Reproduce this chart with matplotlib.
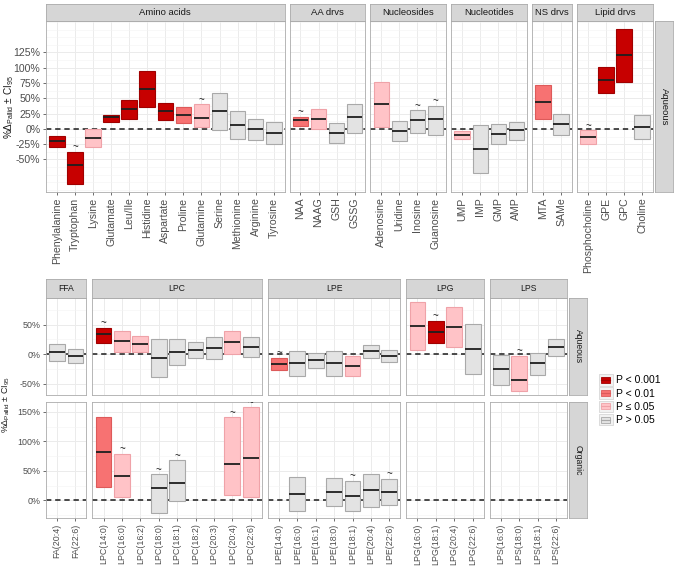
import numpy as np
import matplotlib
matplotlib.use("Agg")
import matplotlib.pyplot as plt
from matplotlib.patches import Rectangle, Patch
from matplotlib.lines import Line2D
from matplotlib.legend_handler import HandlerBase
from matplotlib.ticker import MultipleLocator, FixedLocator

plt.rcParams['font.family'] = ['Liberation Sans', 'DejaVu Sans']
plt.rcParams['mathtext.fontset'] = 'custom'
plt.rcParams['mathtext.rm'] = 'Liberation Sans'
plt.rcParams['mathtext.it'] = 'Liberation Sans'

# ---- data: aqueous metabolites (top figure) ----
aq_groups = ["Amino acids", "AA drvs", "Nucleosides", "Nucleotides", "NS drvs", "Lipid drvs"]
aq_names = [
    ["Phenylalanine", "Tryptophan", "Lysine", "Glutamate", "Leu/Ile", "Histidine", "Aspartate",
     "Proline", "Glutamine", "Serine", "Methionine", "Arginine", "Tyrosine"],
    ["NAA", "NAAG", "GSH", "GSSG"],
    ["Adenosine", "Uridine", "Inosine", "Guanosine"],
    ["UMP", "IMP", "GMP", "AMP"],
    ["MTA", "SAMe"],
    ["Phosphocholine", "GPE", "GPC", "Choline"],
]
aq_lo = [[-29.5, -90.6, -29.5, 11.5, 16.4, 35.5, 13.7, 9.8, 3.8, -2.2, -16.4, -17.5, -25.1],
         [4.4, 0.0, -22.9, -6.6],
         [2.7, -19.7, -6.6, -9.8],
         [-16.9, -72.0, -24.6, -18.0],
         [16.9, -9.3],
         [-24.0, 59.5, 76.4, -15.8]]
aq_mid = [[-19.7, -59.0, -14.7, 18.6, 32.2, 65.5, 28.9, 22.4, 18.0, 28.9, 6.6, -0.5, -6.0],
          [13.7, 16.9, -6.0, 18.6],
          [40.4, -3.3, 13.7, 16.9],
          [-9.8, -32.2, -8.2, -2.2],
          [44.2, 7.6],
          [-13.1, 79.7, 120.7, 3.3]]
aq_hi = [[-11.5, -37.7, -0.5, 23.5, 47.0, 95.0, 43.1, 35.0, 39.9, 59.5, 30.0, 15.8, 12.0],
         [19.7, 33.3, 9.8, 41.5],
         [77.5, 13.1, 30.6, 38.2],
         [-3.3, 7.1, 8.7, 12.0],
         [71.0, 24.0],
         [-2.2, 100.5, 163.8, 23.5]]
# 0: P<0.001, 1: P<0.01, 2: P<=0.05, 3: P>0.05
aq_sig = [[0, 0, 2, 0, 0, 0, 0, 1, 2, 3, 3, 3, 3],
          [1, 2, 3, 3],
          [2, 3, 3, 3],
          [2, 3, 3, 3],
          [1, 3],
          [2, 0, 0, 3]]
aq_tilde = [[0, 1, 0, 0, 0, 0, 0, 0, 1, 0, 0, 0, 0],
            [1, 0, 0, 0],
            [0, 0, 1, 1],
            [0, 0, 0, 0],
            [0, 0],
            [1, 0, 0, 0]]
aq_yticks = [-50, -25, 0, 25, 50, 75, 100, 125]

# ---- data: lipids (bottom figure), rows Aqueous / Organic ----
lp_groups = ["FFA", "LPC", "LPE", "LPG", "LPS"]
lp_names = [
    ["FA(20:4)", "FA(22:6)"],
    ["LPC(14:0)", "LPC(16:0)", "LPC(16:2)", "LPC(18:0)", "LPC(18:1)", "LPC(18:2)",
     "LPC(20:3)", "LPC(20:4)", "LPC(22:6)"],
    ["LPE(14:0)", "LPE(16:0)", "LPE(16:1)", "LPE(18:0)", "LPE(18:1)", "LPE(20:4)", "LPE(22:6)"],
    ["LPG(16:0)", "LPG(18:1)", "LPG(20:4)", "LPG(22:6)"],
    ["LPS(16:0)", "LPS(18:0)", "LPS(18:1)", "LPS(22:6)"],
]
nan = np.nan
lpa_lo = [[-11.9, -15.3],
          [18.2, 3.4, 3.4, -39.2, -19.3, -7.4, -8.0, 0.0, -5.1],
          [-27.8, -38.0, -23.3, -36.4, -36.9, -7.4, -13.1],
          [6.8, 19.3, 11.9, -34.0],
          [-52.8, -61.9, -35.2, -2.8]]
lpa_mid = [[2.8, -4.0],
           [34.7, 22.2, 17.6, -6.8, 4.0, 6.8, 10.8, 20.4, 12.5],
           [-17.6, -15.9, -9.7, -14.8, -20.4, 4.5, -3.4],
           [47.7, 38.0, 46.0, 9.1],
           [-26.1, -43.7, -15.9, 11.4]]
lpa_hi = [[16.5, 8.5],
          [44.3, 39.8, 31.2, 26.1, 25.6, 19.9, 29.0, 39.2, 29.5],
          [-6.2, 5.7, 1.7, 5.1, -3.4, 15.9, 6.8],
          [87.5, 56.8, 80.1, 51.1],
          [-1.7, -2.8, 2.3, 26.1]]
lpa_sig = [[3, 3],
           [0, 2, 2, 3, 3, 3, 3, 2, 3],
           [1, 3, 3, 3, 2, 3, 3],
           [2, 0, 2, 3],
           [3, 2, 3, 3]]
lpa_tilde = [[0, 0],
             [1, 0, 0, 0, 0, 0, 0, 0, 0],
             [1, 0, 0, 0, 0, 0, 0],
             [0, 1, 0, 0],
             [0, 1, 0, 0]]
lpo_lo = [[nan, nan],
          [23.6, 5.1, nan, -20.8, -0.6, nan, nan, 8.4, 6.2],
          [nan, -18.5, nan, -9.6, -17.4, -11.2, -7.9],
          [nan, nan, nan, nan],
          [nan, nan, nan, nan]]
lpo_mid = [[nan, nan],
           [82.6, 42.1, nan, 21.3, 29.2, nan, nan, 62.4, 72.5],
           [nan, 11.2, nan, 14.6, 6.7, 16.9, 14.6],
           [nan, nan, nan, nan],
           [nan, nan, nan, nan]]
lpo_hi = [[nan, nan],
          [141.0, 78.7, nan, 44.4, 68.0, nan, nan, 141.0, 157.9],
          [nan, 40.4, nan, 37.6, 33.1, 44.4, 37.1],
          [nan, nan, nan, nan],
          [nan, nan, nan, nan]]
lpo_sig = [[3, 3],
           [1, 2, 3, 3, 3, 3, 3, 2, 2],
           [3, 3, 3, 3, 3, 3, 3],
           [3, 3, 3, 3],
           [3, 3, 3, 3]]
lpo_tilde = [[0, 0],
             [0, 1, 0, 1, 1, 0, 0, 1, 1],
             [0, 0, 0, 0, 1, 0, 1],
             [0, 0, 0, 0],
             [0, 0, 0, 0]]
lpa_yticks = [-50, 0, 50]
lpo_yticks = [0, 50, 100, 150]

sig_labels = ["P < 0.001", "P < 0.01", "P \u2264 0.05", "P > 0.05"]
sig_fill = ['#C70000', '#F77272', '#FFC3C7', '#E3E3E3']
sig_edge = ['#A00000', '#DD5A5A', '#EFA2A8', '#A9A9A9']

# ---- figure ----
W, H = 675, 570
fig = plt.figure(figsize=(W / 100, H / 100), dpi=100)
border = '#ABABAB'
strip_bg = '#D6D6D6'
ylab = r'%$\Delta_{\mathrm{Pallid}}$ $\pm$ CI$_{95}$'


def px_axes(x0, y0, x1, y1):
    return fig.add_axes([x0 / W, 1 - y1 / H, (x1 - x0) / W, (y1 - y0) / H])


def strip(x0, y0, x1, y1, text, fs, rot=0):
    s = px_axes(x0, y0, x1, y1)
    s.set_facecolor(strip_bg)
    s.set_xticks([])
    s.set_yticks([])
    for sp in s.spines.values():
        sp.set_color(border)
        sp.set_linewidth(0.6)
    s.text(0.5, 0.5, text, ha='center', va='center', rotation=rot,
           fontsize=fs, color='#1A1A1A', transform=s.transAxes)


def panel_edges(counts, x0, x1, gap):
    # facet widths follow the number of categories (space = "free_x")
    units = [n + 0.2 for n in counts]
    per = (x1 - x0 - gap * (len(counts) - 1)) / sum(units)
    edges = []
    x = x0
    for u in units:
        edges.append((x, x + u * per))
        x += u * per + gap
    return edges


def data_lim(los, his):
    lo = np.nanmin([v for g in los for v in g])
    hi = np.nanmax([v for g in his for v in g])
    pad = (hi - lo) * 0.05
    return lo - pad, hi + pad


def draw_panel(ax, names, lo, mid, hi, sig, tilde, ylim, yticks, minor, first,
               show_x, xfs, yfs):
    n = len(names)
    x = np.arange(n)
    lo = np.asarray(lo, float)
    mid = np.asarray(mid, float)
    hi = np.asarray(hi, float)
    ax.set_xlim(-0.6, n - 0.4)
    ax.set_ylim(*ylim)
    ax.axhline(0, color='#1A1A1A', lw=1.1, ls=(0, (3.5, 2.5)), zorder=2)
    ok = ~np.isnan(mid)
    fills = [sig_fill[s] for s in sig]
    edges = [sig_edge[s] for s in sig]
    ax.bar(x[ok], (hi - lo)[ok], bottom=lo[ok], width=0.86,
           color=[fills[i] for i in x[ok]], edgecolor=[edges[i] for i in x[ok]],
           linewidth=0.8, zorder=3)
    ax.hlines(mid[ok], x[ok] - 0.43, x[ok] + 0.43, color='#1E1E1E', lw=1.3, zorder=4)
    for i in x[ok]:
        if tilde[i]:
            ax.annotate('~', xy=(i, hi[i]), xytext=(0, 3.2), textcoords='offset points',
                        ha='center', va='center', fontsize=7, color='#1A1A1A',
                        zorder=5, annotation_clip=False, clip_on=True)
    ax.set_facecolor('white')
    ax.xaxis.set_major_locator(FixedLocator(x))
    ax.yaxis.set_major_locator(FixedLocator(yticks))
    ax.yaxis.set_minor_locator(MultipleLocator(minor))
    ax.grid(True, which='major', color='#EBEBEB', lw=0.7, zorder=0)
    ax.grid(True, which='minor', axis='y', color='#F3F3F3', lw=0.4, zorder=0)
    ax.set_axisbelow(True)
    ax.tick_params(which='minor', length=0)
    ax.tick_params(which='major', length=2.5, width=0.5, color='#333333',
                   labelcolor='#4D4D4D', pad=1.5)
    if show_x:
        ax.set_xticklabels(names, rotation=90, fontsize=xfs)
    else:
        ax.tick_params(axis='x', length=0, labelbottom=False)
    if first:
        ax.set_yticklabels([f"{v:.0f}%" for v in yticks], fontsize=yfs)
    else:
        ax.tick_params(axis='y', length=0, labelleft=False)
    for sp in ax.spines.values():
        sp.set_color(border)
        sp.set_linewidth(0.6)


# ---- top figure ----
top_edges = panel_edges([len(g) for g in aq_names], 46, 653, 5)
top_ylim = data_lim(aq_lo, aq_hi)
for k, (a, b) in enumerate(top_edges):
    ax = px_axes(a, 21, b, 192)
    draw_panel(ax, aq_names[k], aq_lo[k], aq_mid[k], aq_hi[k], aq_sig[k], aq_tilde[k],
               top_ylim, aq_yticks, 12.5, k == 0, True, 7.6, 7.6)
    strip(a, 4, b, 21, aq_groups[k], 6.8)
strip(655, 21, 673, 192, "Aqueous", 6.8, rot=-90)
fig.text(9 / W, 1 - 107 / H, ylab, rotation=90, ha='center', va='center',
         fontsize=7.2, color='#1A1A1A')

# ---- bottom figure ----
bot_edges = panel_edges([len(g) for g in lp_names], 46, 567, 6)
lpa_ylim = data_lim(lpa_lo, lpa_hi)
lpo_ylim = data_lim(lpo_lo, lpo_hi)
for k, (a, b) in enumerate(bot_edges):
    ax = px_axes(a, 298, b, 395)
    draw_panel(ax, lp_names[k], lpa_lo[k], lpa_mid[k], lpa_hi[k], lpa_sig[k], lpa_tilde[k],
               lpa_ylim, lpa_yticks, 25, k == 0, False, 6.4, 6.4)
    ax = px_axes(a, 402, b, 518)
    draw_panel(ax, lp_names[k], lpo_lo[k], lpo_mid[k], lpo_hi[k], lpo_sig[k], lpo_tilde[k],
               lpo_ylim, lpo_yticks, 25, k == 0, True, 6.4, 6.4)
    strip(a, 279, b, 298, lp_groups[k], 6.2)
strip(569, 298, 587, 395, "Aqueous", 6.2, rot=-90)
strip(569, 402, 587, 518, "Organic", 6.2, rot=-90)
fig.text(6 / W, 1 - 405 / H, ylab, rotation=90, ha='center', va='center',
         fontsize=6.4, color='#1A1A1A')


# ---- legend ----
class CrossbarHandler(HandlerBase):
    def create_artists(self, legend, orig_handle, xdescent, ydescent, width, height,
                       fontsize, trans):
        x0, y0 = -xdescent, -ydescent
        bg = Rectangle((x0, y0), width, height, fc='#F2F2F2', ec='#D0D0D0', lw=0.5,
                       transform=trans)
        r = Rectangle((x0 + 1.5, y0 + 2), width - 3, height - 4,
                      fc=orig_handle.get_facecolor(), ec=orig_handle.get_edgecolor(),
                      lw=0.6, transform=trans)
        ln = Line2D([x0 + 1.5, x0 + width - 1.5], [y0 + height / 2] * 2,
                    color=orig_handle.get_edgecolor(), lw=0.8, transform=trans)
        return [bg, r, ln]


handles = [Patch(facecolor=f, edgecolor=e) for f, e in zip(sig_fill, sig_edge)]
fig.legend(handles, sig_labels, loc='upper left', bbox_to_anchor=(599 / W, 1 - 374 / H),
           frameon=False, handler_map={Patch: CrossbarHandler()}, fontsize=7.5,
           handlelength=1.3, handleheight=1.35, labelspacing=0.15, handletextpad=0.35,
           borderpad=0, borderaxespad=0)

fig.savefig("out.png", dpi=100)
